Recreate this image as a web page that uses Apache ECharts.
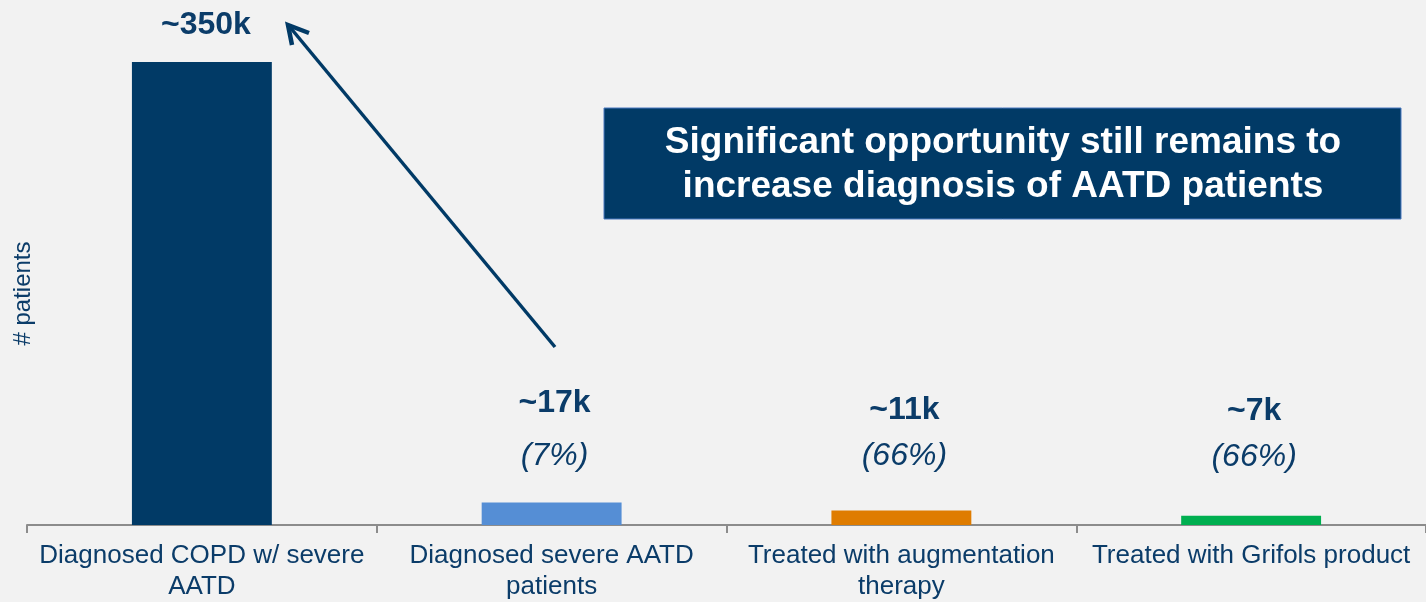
<!DOCTYPE html>
<html>
<head>
<meta charset="utf-8">
<script src="https://cdn.jsdelivr.net/npm/echarts@6/dist/echarts.min.js"></script>
<style>
  html, body { margin: 0; padding: 0; background: #f2f2f2; }
  #chart { width: 1426px; height: 602px; }
</style>
</head>
<body>
<div id="chart"></div>
<script>
// data
const categories = [
  'Diagnosed COPD w/ severe\nAATD',
  'Diagnosed severe AATD\npatients',
  'Treated with augmentation\ntherapy',
  'Treated with Grifols product'
];
const patients = [350, 17, 11, 7]; // thousands
const valueLabels = ['~350k', '~17k', '~11k', '~7k'];
const shareLabels = ['', '(7%)', '(66%)', '(66%)'];
const barColors = ['#013a66', '#558ed5', '#df7c00', '#00af50'];

const navy = '#0b3c69';
const font = 'Arial, "Liberation Sans", sans-serif';

// label placement per bar (distance above bar, line spacing)
const labelDist = [22, 20, 31, 36];
const labelLine = [30, 53, 46, 46];

const myChart = echarts.init(document.getElementById('chart'));

const barData = patients.map((v, i) => ({
  value: v,
  itemStyle: { color: barColors[i] },
  label: {
    show: true,
    position: 'top',
    distance: labelDist[i],
    offset: i === 0 ? [4, 0] : [3, 0],
    formatter: shareLabels[i] ? '{v|' + valueLabels[i] + '}\n{p|' + shareLabels[i] + '}' : '{v|' + valueLabels[i] + '}',
    rich: {
      v: { fontFamily: font, fontSize: 32, fontWeight: 'bold', color: navy, lineHeight: labelLine[i] },
      p: { fontFamily: font, fontSize: 32, fontStyle: 'italic', color: navy, lineHeight: labelLine[i] }
    }
  }
}));

const option = {
  backgroundColor: '#f2f2f2',
  animation: false,
  grid: { left: 27, right: -5, top: 62, bottom: 74 },
  xAxis: {
    type: 'category',
    data: categories,
    axisLine: { lineStyle: { color: '#8c8c8c', width: 2 } },
    axisTick: { show: true, length: 8, lineStyle: { color: '#8c8c8c', width: 2 } },
    axisLabel: {
      interval: 0,
      margin: 15,
      color: navy,
      fontFamily: font,
      fontSize: 26,
      lineHeight: 31
    }
  },
  yAxis: {
    type: 'value',
    min: 0,
    max: 350,
    name: '# patients',
    nameLocation: 'middle',
    nameRotate: 90,
    nameGap: -8,
    nameTextStyle: { color: navy, fontFamily: font, fontSize: 24 },
    axisLine: { show: false },
    axisTick: { show: false },
    axisLabel: { show: false },
    splitLine: { show: false }
  },
  series: [
    {
      type: 'bar',
      barWidth: '40%',
      data: barData
    }
  ],
  graphic: [
    {
      type: 'line',
      shape: { x1: 555, y1: 347, x2: 289, y2: 26 },
      style: { stroke: '#013a66', lineWidth: 3.5 }
    },
    {
      type: 'polyline',
      shape: { points: [[309, 33], [288, 25], [292, 45]] },
      style: { stroke: '#013a66', lineWidth: 4.5, fill: null, lineJoin: 'miter' }
    },
    {
      type: 'rect',
      shape: { x: 604, y: 108, width: 797, height: 111 },
      style: { fill: '#013a66', stroke: '#4a78c0', lineWidth: 1 }
    },
    {
      type: 'text',
      x: 1003,
      y: 165,
      style: {
        text: 'Significant opportunity still remains to\nincrease diagnosis of AATD patients',
        fill: '#ffffff',
        fontFamily: font,
        fontSize: 37,
        fontWeight: 'bold',
        lineHeight: 44,
        align: 'center',
        verticalAlign: 'middle'
      }
    }
  ]
};

myChart.setOption(option);
</script>
</body>
</html>
